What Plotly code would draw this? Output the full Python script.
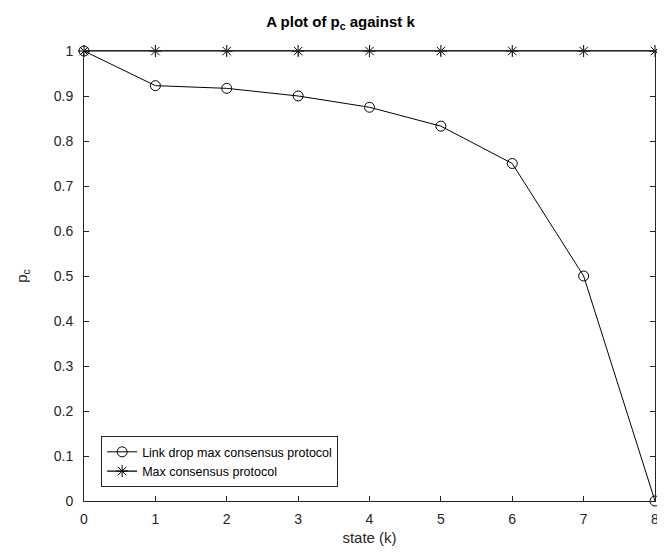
import plotly.graph_objects as go

k = [0, 1, 2, 3, 4, 5, 6, 7, 8]
link_drop = [1.0, 0.923, 0.917, 0.9, 0.875, 0.833, 0.75, 0.5, 0.0]
max_consensus = [1, 1, 1, 1, 1, 1, 1, 1, 1]

ax_col = "#262626"
font_family = "Liberation Sans, Arial, Helvetica, sans-serif"

fig = go.Figure()
fig.add_trace(go.Scatter(
    x=k, y=link_drop, mode="lines+markers", name="Link drop max consensus protocol",
    line=dict(color="black", width=1),
    marker=dict(symbol="circle-open", size=10, color="black", line=dict(width=1)),
    cliponaxis=False,
))
fig.add_trace(go.Scatter(
    x=k, y=max_consensus, mode="lines+markers", name="Max consensus protocol",
    line=dict(color="black", width=1.2),
    marker=dict(symbol="asterisk-open", size=10, color="black", line=dict(width=1, color="black")),
    cliponaxis=False,
))

axis_common = dict(
    showline=True, linecolor=ax_col, linewidth=1, mirror="allticks",
    ticks="inside", ticklen=5, tickcolor=ax_col, tickwidth=1,
    showgrid=False, zeroline=False,
    tickfont=dict(family=font_family, size=14, color=ax_col),
)

fig.update_layout(
    width=665, height=552,
    paper_bgcolor="white", plot_bgcolor="white",
    margin=dict(l=76, r=18, t=43, b=59),
    font=dict(family=font_family, color=ax_col),
    title=dict(text="<b>A plot of p<sub>c</sub> against k</b>", x=0.5, xanchor="center",
               y=0.975, yanchor="middle", font=dict(size=15, color="black")),
    xaxis=dict(range=[0, 8], dtick=1, tick0=0, ticklabelstandoff=5,
               title=dict(text="state (k)", font=dict(size=15, color=ax_col), standoff=6),
               **axis_common),
    yaxis=dict(range=[0, 1], dtick=0.1, tick0=0, ticklabelstandoff=7,
               title=dict(text="p<sub>c</sub>", font=dict(size=15, color=ax_col), standoff=22),
               **axis_common),
    showlegend=True,
    legend=dict(x=0.03, y=0.144, xanchor="left", yanchor="top",
                bgcolor="white", bordercolor=ax_col, borderwidth=1,
                font=dict(family=font_family, size=12.5, color="black"),
                tracegroupgap=0, itemwidth=30),
)

fig.write_html("out.html")
